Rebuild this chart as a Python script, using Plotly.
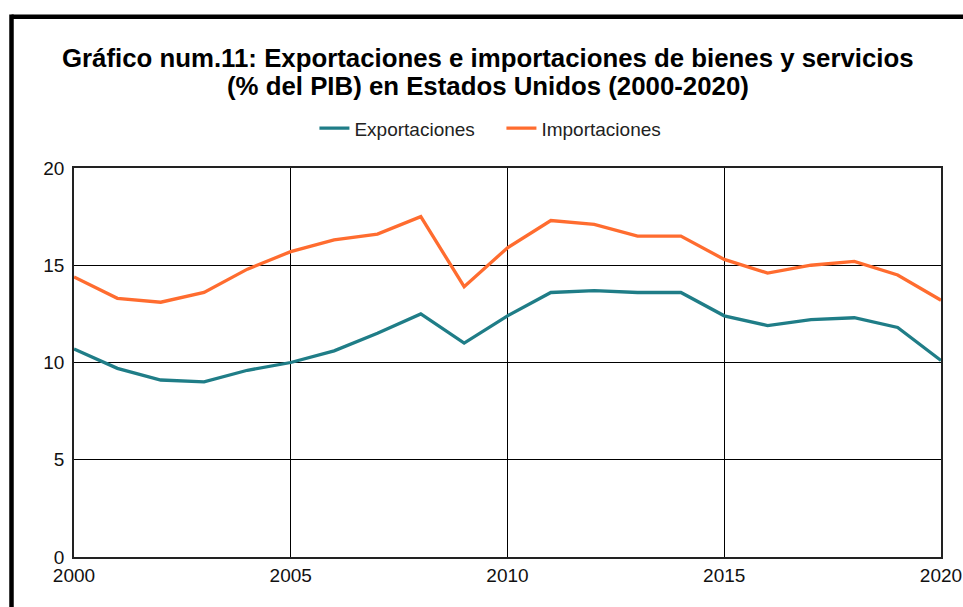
import plotly.graph_objects as go

years = list(range(2000, 2021))
exportaciones = [10.7, 9.7, 9.1, 9.0, 9.6, 10.0, 10.6, 11.5, 12.5, 11.0, 12.4,
                 13.6, 13.7, 13.6, 13.6, 12.4, 11.9, 12.2, 12.3, 11.8, 10.1]
importaciones = [14.4, 13.3, 13.1, 13.6, 14.8, 15.7, 16.3, 16.6, 17.5, 13.9, 15.9,
                 17.3, 17.1, 16.5, 16.5, 15.3, 14.6, 15.0, 15.2, 14.5, 13.2]
x_ticks = [2000, 2005, 2010, 2015, 2020]
y_ticks = [0, 5, 10, 15, 20]

title_line1 = "<b>Gráfico num.11: Exportaciones e importaciones de bienes y servicios</b>"
title_line2 = "<b>(% del PIB) en Estados Unidos (2000-2020)</b>"

FONT = "Liberation Sans, Arial, sans-serif"

fig = go.Figure()
fig.add_trace(go.Scatter(x=years, y=exportaciones, mode="lines", name="Exportaciones",
                         line=dict(color="#1f7d87", width=3.3)))
fig.add_trace(go.Scatter(x=years, y=importaciones, mode="lines", name="Importaciones",
                         line=dict(color="#ff6c2f", width=3.3)))

fig.update_layout(
    width=963, height=607,
    margin=dict(l=74, r=22, t=168, b=50),
    paper_bgcolor="white", plot_bgcolor="white",
    font=dict(family=FONT, color="#111111", size=19),
    legend=dict(orientation="h", x=0.493, xanchor="center", y=1.102, yanchor="middle",
                font=dict(size=19, color="#222222"), itemwidth=30, entrywidth=142),
    showlegend=True,
)
# title as two lines (tight line spacing as in the reference)
fig.add_annotation(text=title_line1, xref="paper", yref="paper", x=0.477, y=(556.7 - 58) / 389,
                   xanchor="center", yanchor="middle", showarrow=False,
                   font=dict(size=25.8, color="black", family=FONT))
fig.add_annotation(text=title_line2, xref="paper", yref="paper", x=0.477, y=(556.7 - 86) / 389,
                   xanchor="center", yanchor="middle", showarrow=False,
                   font=dict(size=25.8, color="black", family=FONT))

fig.update_xaxes(range=[2000, 2020], tickvals=x_ticks, showgrid=True, gridcolor="black",
                 gridwidth=1.4, showline=True, linecolor="#222222", linewidth=1.6, mirror=True,
                 zeroline=False, ticks="", automargin=False, ticklabeloverflow="allow",
                 tickfont=dict(size=19, color="#111111"))
fig.update_yaxes(range=[0, 20], tickvals=y_ticks, showgrid=True, gridcolor="black",
                 gridwidth=1.4, showline=True, linecolor="#222222", linewidth=1.6, mirror=True,
                 zeroline=False, ticks="", ticklabelstandoff=4, automargin=False,
                 tickfont=dict(size=19, color="#111111"))

# outer frame (left and top edges of a black border)
fx = (11.5 - 74) / 867
fy = (556.7 - 16.5) / 389
fig.add_shape(type="line", xref="paper", yref="paper", x0=fx, x1=fx, y0=-0.3, y1=fy + 0.006,
              line=dict(color="black", width=4.5))
fig.add_shape(type="line", xref="paper", yref="paper", x0=fx, x1=1.2, y0=fy, y1=fy,
              line=dict(color="black", width=4.5))

fig.write_html("out.html",
               config={"displayModeBar": False},
               post_script=("document.documentElement.style.margin='0';"
                            "document.documentElement.style.overflow='hidden';"
                            "document.body.style.margin='0';document.body.style.padding='0';"
                            "document.body.style.overflow='hidden';"))
